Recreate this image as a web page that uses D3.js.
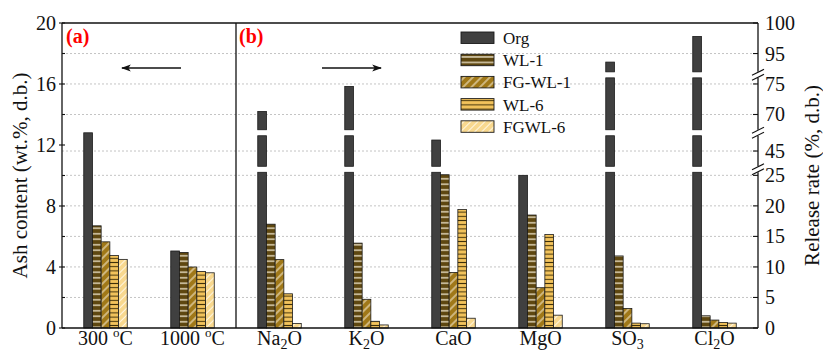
<!DOCTYPE html>
<html>
<head>
<meta charset="utf-8">
<script src="https://cdn.jsdelivr.net/npm/d3@7"></script>
<style>
  body { margin: 0; background: #fff; }
  svg, svg text { font-family: "Liberation Serif", "Times New Roman", serif; }
</style>
</head>
<body>
<div id="chart"></div>
<script>
// categories
const tempCats = ['300 ºC', '1000 ºC'];
const oxideCats = ['Na2O', 'K2O', 'CaO', 'MgO', 'SO3', 'Cl2O'];
const series = ['Org', 'WL-1', 'FG-WL-1', 'WL-6', 'FGWL-6'];

// (a) ash content, wt.%
const ashOrg = [12.8, 5.05];
const ashWL1 = [6.7, 4.95];
const ashFGWL1 = [5.65, 4.0];
const ashWL6 = [4.75, 3.7];
const ashFGWL6 = [4.5, 3.62];

// (b) release rate, %
const relOrg = [70.5, 74.6, 46.8, 25.0, 93.6, 97.8];
const relWL1 = [17.0, 13.9, 25.1, 18.5, 11.8, 2.0];
const relFGWL1 = [11.2, 4.7, 9.1, 6.6, 3.2, 1.3];
const relWL6 = [5.6, 1.1, 19.4, 15.3, 0.8, 0.9];
const relFGWL6 = [0.75, 0.5, 1.6, 2.1, 0.7, 0.8];

const leftTicks = [0, 4, 8, 12, 16, 20];
const rightTicks = [0, 5, 10, 15, 20, 25, 45, 70, 75, 95, 100];
const rightSegments = [[0, 25.5], [42.5, 47.5], [67.5, 76], [92, 100]];

const W = 823, H = 351;
const m = { left: 62, right: 65, top: 23, bottom: 23 };
const x0 = m.left, x1 = W - m.right, yTop = m.top, yBot = H - m.bottom;

const svg = d3.select('#chart').append('svg')
    .attr('width', W).attr('height', H)
    .attr('font-family', '"Liberation Serif", "Times New Roman", serif');

// patterns for hatched bars
const defs = svg.append('defs');
function stripes(id, bg, line, size, angle, lw) {
    const p = defs.append('pattern')
        .attr('id', id)
        .attr('patternUnits', 'userSpaceOnUse')
        .attr('width', size).attr('height', size)
        .attr('patternTransform', `rotate(${angle})`);
    p.append('rect').attr('width', size).attr('height', size).attr('fill', bg);
    p.append('line').attr('x1', -1).attr('x2', size + 1)
        .attr('y1', size / 2).attr('y2', size / 2)
        .attr('stroke', line).attr('stroke-width', lw);
}
stripes('p-wl1', '#5e4710', '#f0e8d0', 5.5, 0, 1.3);
stripes('p-fgwl1', '#a07818', '#f4ead0', 6, -45, 1.1);
stripes('p-wl6', '#f3c35c', '#3e2f08', 4.2, 0, 1);
stripes('p-fgwl6', '#f8d88e', '#fff6e0', 5, -45, 1.1);

const fills = ['#404040', 'url(#p-wl1)', 'url(#p-fgwl1)', 'url(#p-wl6)', 'url(#p-fgwl6)'];

// scales
const allCats = tempCats.concat(oxideCats);
const x = d3.scaleBand().domain(allCats).range([x0, x1]).padding(0);
const xs = d3.scaleBand().domain(series)
    .range([x.bandwidth() / 4, x.bandwidth() * 3 / 4]);

const yLeft = d3.scaleLinear().domain([0, 20]).range([yBot, yTop]);

// broken right axis: piecewise linear over visible segments
const gap = 6;
const units = d3.sum(rightSegments, s => s[1] - s[0]);
const k = (yBot - yTop - gap * (rightSegments.length - 1)) / units;
const rDomain = [], rRange = [];
let yy = yBot;
rightSegments.forEach(s => {
    rDomain.push(s[0]); rRange.push(yy);
    yy -= (s[1] - s[0]) * k;
    rDomain.push(s[1]); rRange.push(yy);
    yy -= gap;
});
const yRight = d3.scaleLinear().domain(rDomain).range(rRange);
const breakYs = rightSegments.slice(0, -1).map(s => yRight(s[1]) - gap / 2);

// grid lines (from the right axis ticks)
svg.append('g').selectAll('line')
    .data(rightTicks.filter(t => t > 0 && t < 100))
    .join('line')
    .attr('x1', x0).attr('x2', x1)
    .attr('y1', d => yRight(d)).attr('y2', d => yRight(d))
    .attr('stroke', '#c4c4c4').attr('stroke-width', 1)
    .attr('stroke-dasharray', '2,2');

// bars (a)
const ashData = [ashOrg, ashWL1, ashFGWL1, ashWL6, ashFGWL6];
const gA = svg.append('g');
tempCats.forEach((c, ci) => {
    series.forEach((s, si) => {
        const v = ashData[si][ci];
        gA.append('rect')
            .attr('x', x(c) + xs(s))
            .attr('width', xs.bandwidth())
            .attr('y', yLeft(v))
            .attr('height', yLeft(0) - yLeft(v))
            .attr('fill', fills[si])
            .attr('stroke', '#1a1a1a').attr('stroke-width', 0.8);
    });
});

// bars (b), split at axis breaks
const relData = [relOrg, relWL1, relFGWL1, relWL6, relFGWL6];
const gB = svg.append('g');
oxideCats.forEach((c, ci) => {
    series.forEach((s, si) => {
        const v = relData[si][ci];
        rightSegments.forEach(seg => {
            if (v <= seg[0]) return;
            const top = Math.min(v, seg[1]);
            gB.append('rect')
                .attr('x', x(c) + xs(s))
                .attr('width', xs.bandwidth())
                .attr('y', yRight(top))
                .attr('height', yRight(seg[0]) - yRight(top))
                .attr('fill', fills[si])
                .attr('stroke', '#1a1a1a').attr('stroke-width', 0.8);
        });
    });
});

// frame
const frame = svg.append('g').attr('stroke', '#111').attr('stroke-width', 1.3);
frame.append('line').attr('x1', x0).attr('x2', x1).attr('y1', yTop).attr('y2', yTop);
frame.append('line').attr('x1', x0).attr('x2', x1).attr('y1', yBot).attr('y2', yBot);
frame.append('line').attr('x1', x0).attr('x2', x0).attr('y1', yTop).attr('y2', yBot);
const xDiv = x(oxideCats[0]);
frame.append('line').attr('x1', xDiv).attr('x2', xDiv).attr('y1', yTop).attr('y2', yBot);

// right axis line drawn in pieces with break marks
rightSegments.forEach(seg => {
    frame.append('line').attr('x1', x1).attr('x2', x1)
        .attr('y1', yRight(seg[0])).attr('y2', yRight(seg[1]));
});
breakYs.forEach(by => {
    [-2.5, 2.5].forEach(off => {
        frame.append('line')
            .attr('x1', x1 - 6).attr('x2', x1 + 6)
            .attr('y1', by + off + 3).attr('y2', by + off - 3)
            .attr('stroke-width', 1.1);
    });
});

// ticks
const tickG = svg.append('g').attr('stroke', '#111').attr('stroke-width', 1.1);
leftTicks.forEach(t => {
    tickG.append('line').attr('x1', x0 - 3).attr('x2', x0 + 3)
        .attr('y1', yLeft(t)).attr('y2', yLeft(t));
});
d3.range(2, 20, 4).forEach(t => {
    tickG.append('line').attr('x1', x0).attr('x2', x0 + 3)
        .attr('y1', yLeft(t)).attr('y2', yLeft(t));
});
rightTicks.forEach(t => {
    tickG.append('line').attr('x1', x1 - 5).attr('x2', x1)
        .attr('y1', yRight(t)).attr('y2', yRight(t));
});

const txt = svg.append('g').attr('fill', '#111').style('font-size', '20px');
txt.selectAll('.lt').data(leftTicks).join('text')
    .attr('x', x0 - 6).attr('y', d => yLeft(d)).attr('dy', '0.35em')
    .attr('text-anchor', 'end').text(d => d);
txt.selectAll('.rt').data(rightTicks).join('text')
    .attr('x', x1 + 7).attr('y', d => yRight(d)).attr('dy', '0.35em')
    .attr('text-anchor', 'start').text(d => d);

// x labels with sub / superscripts
allCats.forEach(c => {
    const t = txt.append('text')
        .attr('x', x(c) + x.bandwidth() / 2).attr('y', H - 6)
        .attr('text-anchor', 'middle');
    if (c.includes('º')) {
        t.append('tspan').text(c.split(' ')[0] + ' ');
        t.append('tspan').attr('dy', -8).style('font-size', '13px').text('o');
        t.append('tspan').attr('dy', 8).text('C');
    } else {
        let sub = false;
        c.match(/[A-Za-z]+|\d+/g).forEach(p => {
            const isNum = /^\d+$/.test(p);
            const ts = t.append('tspan').text(p);
            if (isNum && !sub) { ts.attr('dy', 4).style('font-size', '14px'); sub = true; }
            else if (!isNum && sub) { ts.attr('dy', -4); sub = false; }
        });
    }
});

// axis titles
txt.append('text')
    .attr('transform', `translate(${20},${(yTop + yBot) / 2}) rotate(-90)`)
    .attr('text-anchor', 'middle').attr('dy', '0.35em').style('font-size', '21px')
    .text('Ash content (wt.%, d.b.)');
txt.append('text')
    .attr('transform', `translate(${W - 11},${(yTop + yBot) / 2}) rotate(-90)`)
    .attr('text-anchor', 'middle').attr('dy', '0.35em').style('font-size', '21px')
    .text('Release rate (%, d.b.)');

// panel labels
svg.append('text').attr('x', x0 + 4).attr('y', yTop + 20)
    .attr('fill', '#ff0000').style('font-size', '20px').style('font-weight', 'bold')
    .text('(a)');
svg.append('text').attr('x', xDiv + 3).attr('y', yTop + 20)
    .attr('fill', '#ff0000').style('font-size', '20px').style('font-weight', 'bold')
    .text('(b)');

// direction arrows
defs.append('marker').attr('id', 'arrow')
    .attr('viewBox', '0 0 10 10').attr('refX', 9).attr('refY', 5)
    .attr('markerWidth', 9).attr('markerHeight', 7).attr('orient', 'auto')
    .append('path').attr('d', 'M0,1.5 L10,5 L0,8.5 L2.5,5 Z').attr('fill', '#111');
const ay = yLeft(17.05);
svg.append('line')
    .attr('x1', x(tempCats[1]) + 32).attr('x2', x(tempCats[0]) + 60)
    .attr('y1', ay).attr('y2', ay)
    .attr('stroke', '#111').attr('stroke-width', 1.4).attr('marker-end', 'url(#arrow)');
svg.append('line')
    .attr('x1', x(oxideCats[0]) + 86).attr('x2', x(oxideCats[1]) + 58)
    .attr('y1', ay).attr('y2', ay)
    .attr('stroke', '#111').attr('stroke-width', 1.4).attr('marker-end', 'url(#arrow)');

// legend
const lg = svg.append('g').attr('transform', 'translate(461,32)');
series.forEach((s, i) => {
    const row = lg.append('g').attr('transform', `translate(0,${i * 22.2})`);
    row.append('rect').attr('width', 33).attr('height', 11.5)
        .attr('fill', fills[i]).attr('stroke', '#1a1a1a').attr('stroke-width', 0.9);
    row.append('text').attr('x', 42).attr('y', 6).attr('dy', '0.35em')
        .attr('fill', '#111').style('font-size', '17px').text(s);
});
</script>
</body>
</html>
